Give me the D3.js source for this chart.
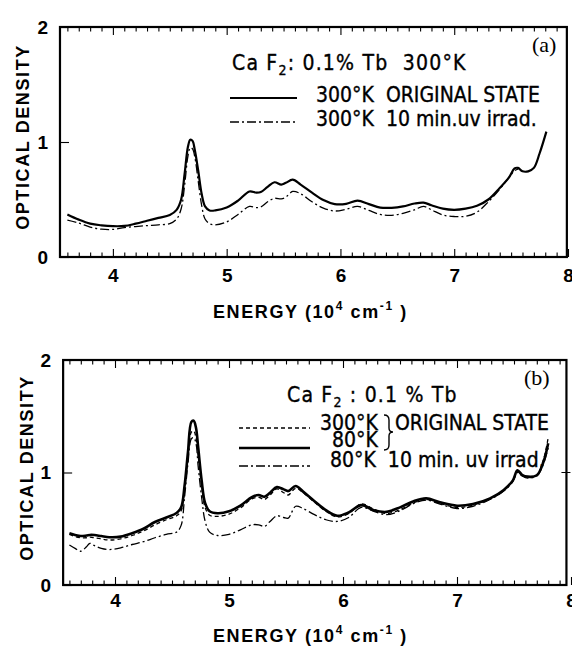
<!DOCTYPE html>
<html>
<head>
<meta charset="utf-8">
<script src="https://cdn.jsdelivr.net/npm/d3@7"></script>
<style>
  body { margin: 0; background: #fff; }
  svg { display: block; }
  .tick text { font-family: "Liberation Sans", Arial, sans-serif; font-weight: bold; font-size: 19px; fill: #000; }
  .axis-title { font-family: "Liberation Sans", Arial, sans-serif; font-weight: bold; font-size: 18px; letter-spacing: 1.6px; }
  .legend { font-family: "DejaVu Sans Condensed", "DejaVu Sans", sans-serif; font-stretch: condensed; font-size: 21px; white-space: pre; stroke: #000; stroke-width: 0.35px; }
  .legend-title { letter-spacing: 1.2px; }
  .tag { font-family: "Liberation Serif", "Times New Roman", serif; font-size: 22px; }
</style>
</head>
<body>
<div id="chart"></div>
<script>
// ---- data (energy in 10^4 cm^-1, optical density) ----
var xTicks = [4, 5, 6, 7, 8];
var yTicks = [0, 1, 2];

// panel (a): CaF2 0.1% Tb, 300 K
var energyA = [3.60, 3.70, 3.80, 3.90, 4.00, 4.10, 4.20, 4.30, 4.40, 4.50,
  4.56, 4.60, 4.63, 4.66, 4.68, 4.70, 4.72, 4.75, 4.78, 4.81, 4.85, 4.90,
  5.00, 5.10, 5.20, 5.26, 5.30, 5.36, 5.42, 5.48, 5.52, 5.58, 5.65, 5.75,
  5.85, 5.95, 6.05, 6.15, 6.25, 6.35, 6.45, 6.55, 6.65, 6.73, 6.80, 6.90,
  7.00, 7.10, 7.20, 7.30, 7.40, 7.48, 7.53, 7.56, 7.60, 7.65, 7.70, 7.75, 7.81];
var odA_original = [0.37, 0.325, 0.29, 0.275, 0.268, 0.27, 0.29, 0.315, 0.34, 0.365,
  0.41, 0.50, 0.72, 0.96, 1.02, 1.01, 0.93, 0.75, 0.55, 0.44, 0.405, 0.405,
  0.43, 0.49, 0.57, 0.56, 0.565, 0.61, 0.65, 0.63, 0.645, 0.672, 0.63, 0.56,
  0.495, 0.46, 0.462, 0.49, 0.46, 0.43, 0.428, 0.44, 0.465, 0.473, 0.45, 0.42,
  0.41, 0.42, 0.445, 0.50, 0.60, 0.69, 0.77, 0.775, 0.745, 0.745, 0.775, 0.90, 1.09];
var odA_uv = [0.32, 0.295, 0.26, 0.242, 0.24, 0.255, 0.265, 0.273, 0.28, 0.29,
  0.33, 0.42, 0.62, 0.88, 0.95, 0.94, 0.87, 0.66, 0.45, 0.33, 0.29, 0.28,
  0.305, 0.37, 0.44, 0.43, 0.435, 0.48, 0.51, 0.505, 0.52, 0.57, 0.55, 0.48,
  0.425, 0.40, 0.415, 0.44, 0.405, 0.37, 0.362, 0.38, 0.41, 0.44, 0.41, 0.365,
  0.352, 0.354, 0.39, 0.48, 0.59, 0.69, 0.75, 0.765, null, null, null, null, null];

// panel (b): CaF2 0.1% Tb, 300 K / 80 K
var energyB = [3.60, 3.65, 3.70, 3.75, 3.78, 3.82, 3.88, 3.95, 4.05, 4.15,
  4.25, 4.35, 4.45, 4.54, 4.58, 4.61, 4.64, 4.67, 4.69, 4.71, 4.73, 4.76,
  4.79, 4.83, 4.90, 5.00, 5.10, 5.20, 5.26, 5.31, 5.36, 5.42, 5.48, 5.52,
  5.585, 5.65, 5.75, 5.85, 5.95, 6.05, 6.16, 6.27, 6.38, 6.50, 6.62, 6.73,
  6.85, 7.00, 7.14, 7.29, 7.41, 7.49, 7.53, 7.57, 7.62, 7.70, 7.76, 7.80];
var odB_300K = [0.45, 0.43, 0.42, 0.42, 0.425, 0.42, 0.41, 0.40, 0.41, 0.44,
  0.48, 0.535, 0.58, 0.615, 0.66, 0.84, 1.12, 1.36, 1.37, 1.31, 1.14, 0.88,
  0.69, 0.62, 0.61, 0.63, 0.685, 0.765, 0.78, 0.76, 0.80, 0.855, 0.82, 0.80,
  0.86, 0.82, 0.735, 0.655, 0.605, 0.635, 0.72, 0.675, 0.635, 0.67, 0.73, 0.76,
  0.725, 0.69, 0.71, 0.765, 0.84, 0.925, 1.01, 0.975, 0.955, 0.975, 1.12, 1.31];
var odB_80K = [0.46, 0.445, 0.435, 0.44, 0.445, 0.444, 0.435, 0.425, 0.43, 0.46,
  0.50, 0.56, 0.60, 0.64, 0.69, 0.88, 1.18, 1.45, 1.46, 1.40, 1.22, 0.93,
  0.73, 0.655, 0.638, 0.655, 0.705, 0.78, 0.80, 0.785, 0.82, 0.87, 0.85, 0.835,
  0.88, 0.83, 0.745, 0.665, 0.615, 0.645, 0.71, 0.665, 0.65, 0.69, 0.745, 0.77,
  0.735, 0.705, 0.72, 0.77, 0.845, 0.93, 1.02, 0.98, 0.963, 0.975, 1.10, 1.26];
var odB_80K_uv = [0.355, 0.325, 0.30, 0.34, 0.37, 0.35, 0.325, 0.315, 0.33, 0.36,
  0.385, 0.42, 0.45, 0.47, 0.53, 0.78, 1.08, 1.30, 1.31, 1.26, 1.05, 0.78,
  0.57, 0.47, 0.44, 0.45, 0.49, 0.535, 0.535, 0.52, 0.565, 0.615, 0.60, 0.595,
  0.70, 0.68, 0.625, 0.58, 0.565, 0.60, 0.69, 0.655, 0.625, 0.66, 0.725, 0.755,
  0.72, 0.68, 0.70, 0.76, 0.835, 0.92, 1.00, 0.97, 0.95, 0.97, 1.08, 1.22];

var W = 572, H = 647;
var DASH = "4,3", DASHDOT = "9,3,2,3";

var svg = d3.select("#chart").append("svg")
  .attr("width", W).attr("height", H)
  .attr("viewBox", [0, 0, W, H]);

function drawPanel(p) {
  var g = svg.append("g");
  var x = d3.scaleLinear().domain([3.5, 8]).range(p.xRange);
  var y = d3.scaleLinear().domain([0, 2]).range(p.yRange);
  var left = x(p.frameX[0]), right = x(p.frameX[1]);

  // minor ticks every 0.1, bottom and top, pointing inward
  var minor = d3.range(36, 80).map(function (d) { return d / 10; })
    .filter(function (d) { return Math.abs(d - Math.round(d)) > 1e-6; });

  g.append("g").attr("transform", "translate(0," + y(0) + ")")
    .call(d3.axisBottom(x).tickValues(minor).tickSize(-4.5).tickFormat(""));
  g.append("g").attr("transform", "translate(0," + y(2) + ")")
    .call(d3.axisTop(x).tickValues(minor).tickSize(-4.5).tickFormat(""));
  g.append("g").attr("transform", "translate(0," + y(2) + ")")
    .call(d3.axisTop(x).tickValues([4, 5, 6, 7]).tickSize(-8).tickFormat(""));

  // major ticks + labels
  g.append("g").attr("transform", "translate(0," + y(0) + ")")
    .call(d3.axisBottom(x).tickValues(xTicks).tickSize(-8).tickPadding(p.xPad).tickFormat(d3.format("d")));
  g.append("g").attr("transform", "translate(" + left + ",0)")
    .call(d3.axisLeft(y).tickValues(yTicks).tickSize(-9).tickPadding(12).tickFormat(d3.format("d")));
  if (p.rightTick) {
    g.append("line")
      .attr("x1", right - 5).attr("x2", right + 4)
      .attr("y1", y(1)).attr("y2", y(1))
      .attr("stroke", "#000").attr("stroke-width", 1);
  }
  g.selectAll(".domain").remove();
  g.selectAll(".tick line").attr("stroke", "#000").attr("stroke-width", 1.1);

  // frame
  g.append("rect")
    .attr("x", left).attr("y", y(2))
    .attr("width", right - left).attr("height", y(0) - y(2))
    .attr("fill", "none").attr("stroke", "#000").attr("stroke-width", 2.2);

  // curves
  p.series.forEach(function (s) {
    var pts = p.energy.map(function (e, i) { return [e, s.values[i]]; });
    var line = d3.line()
      .defined(function (d) { return d[1] != null; })
      .x(function (d) { return x(d[0]); })
      .y(function (d) { return y(d[1]); })
      .curve(d3.curveCatmullRom.alpha(0.5));
    g.append("path")
      .attr("d", line(pts))
      .attr("fill", "none")
      .attr("stroke", "#000")
      .attr("stroke-width", s.width)
      .attr("stroke-dasharray", s.dash)
      .attr("stroke-linejoin", "round");
  });

  // axis titles
  g.append("text").attr("class", "axis-title")
    .attr("transform", "translate(" + p.yTitle[0] + "," + p.yTitle[1] + ") rotate(-90)")
    .attr("text-anchor", "middle").attr("dy", "0.35em")
    .text("OPTICAL DENSITY");

  var xt = g.append("text").attr("class", "axis-title")
    .attr("x", p.xTitle[0]).attr("y", p.xTitle[1]);
  xt.append("tspan").text("ENERGY  (10");
  xt.append("tspan").attr("dy", -8).attr("font-size", 12).text("4");
  xt.append("tspan").attr("dy", 8).text(" cm");
  xt.append("tspan").attr("dy", -8).attr("font-size", 12).text("-1");
  xt.append("tspan").attr("dy", 8).text(" )");

  g.append("text").attr("class", "tag")
    .attr("x", p.tag[0]).attr("y", p.tag[1]).text(p.tagText);

  return { g: g, x: x, y: y };
}

function legendTitle(g, pos, after) {
  var t = g.append("text").attr("class", "legend legend-title").attr("x", pos[0]).attr("y", pos[1]);
  t.append("tspan").text("Ca F");
  t.append("tspan").attr("dy", 5).attr("font-size", 14).text("2");
  t.append("tspan").attr("dy", -5).text(after);
}

function legendLine(g, x1, x2, yy, w, dash) {
  g.append("line").attr("x1", x1).attr("x2", x2).attr("y1", yy).attr("y2", yy)
    .attr("stroke", "#000").attr("stroke-width", w).attr("stroke-dasharray", dash);
}

function legendText(g, xx, yy, txt, size) {
  g.append("text").attr("class", "legend").attr("x", xx).attr("y", yy)
    .attr("font-size", size || null).text(txt);
}

// ---- panel (a) ----
var a = drawPanel({
  xRange: [56, 568], yRange: [257, 27], frameX: [3.535, 7.99], xPad: 12,
  energy: energyA,
  series: [
    { values: odA_original, width: 2.2, dash: null },
    { values: odA_uv, width: 1.3, dash: DASHDOT }
  ],
  yTitle: [23, 137], xTitle: [213, 318],
  tag: [532, 52], tagText: "(a)", rightTick: false
});
legendTitle(a.g, [232, 70], ": 0.1% Tb  300°K");
legendLine(a.g, 230, 297, 98, 2, null);
legendText(a.g, 316, 102, "300°K  ORIGINAL STATE");
legendLine(a.g, 230, 297, 122, 1.3, DASHDOT);
legendText(a.g, 316, 126, "300°K  10 min.uv irrad.");

// ---- panel (b) ----
var b = drawPanel({
  xRange: [58, 571], yRange: [585, 360], frameX: [3.545, 7.96], xPad: 9,
  energy: energyB,
  series: [
    { values: odB_300K, width: 1.3, dash: DASH },
    { values: odB_80K, width: 2.6, dash: null },
    { values: odB_80K_uv, width: 1.3, dash: DASHDOT }
  ],
  yTitle: [27, 468], xTitle: [213, 642],
  tag: [524, 385], tagText: "(b)", rightTick: true
});
legendTitle(b.g, [287, 402], " : 0.1 % Tb");
legendLine(b.g, 239, 310, 428, 1.3, DASH);
legendLine(b.g, 239, 310, 448, 2.6, null);
legendLine(b.g, 239, 310, 466, 1.3, DASHDOT);
legendText(b.g, 320, 430, "300°K", 20);
legendText(b.g, 332, 447, "80°K", 20);
legendText(b.g, 330, 467, "80°K  10 min. uv irrad.", 20);
legendText(b.g, 395, 430, "ORIGINAL STATE", 20);
b.g.append("path")
  .attr("d", "M384,415 Q389,415 389,420 L389,428 Q389,432 393,432 Q389,432 389,436 L389,445 Q389,450 384,450")
  .attr("fill", "none").attr("stroke", "#000").attr("stroke-width", 1.4);
</script>
</body>
</html>
